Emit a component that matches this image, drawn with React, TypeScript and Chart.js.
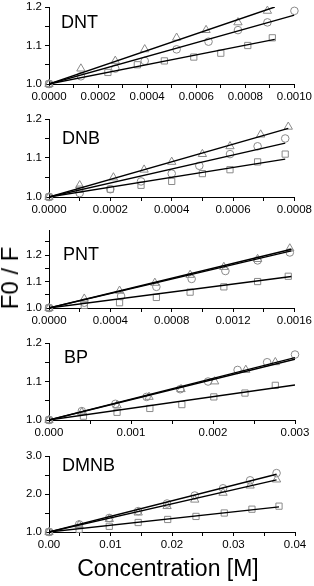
import React, { useEffect, useRef } from 'react';
import { Chart, registerables } from 'chart.js';

Chart.register(...registerables);

const FONT = '"Liberation Sans", Arial, Helvetica, sans-serif';
const GRAY = '#8a8a8a';

// ---------- DNT ----------
const dntTriX = [0, 0.00013, 0.00027, 0.00039, 0.00052, 0.00064, 0.00077, 0.00089];
const dntTriY = [1.0, 1.04, 1.06, 1.09, 1.12, 1.14, 1.16, 1.19];
const dntCirX = [0, 0.00013, 0.00027, 0.00039, 0.00052, 0.00065, 0.00077, 0.00089, 0.001];
const dntCirY = [1.0, 1.02, 1.04, 1.06, 1.09, 1.11, 1.14, 1.16, 1.19];
const dntSqX = [0, 0.00024, 0.00036, 0.00047, 0.00059, 0.0007, 0.00081, 0.00091];
const dntSqY = [1.0, 1.03, 1.05, 1.06, 1.07, 1.08, 1.1, 1.12];
const dntFitX = [0.00092, 0.001, 0.00092]; // tri, circle, square fit end x
const dntFitY = [1.2, 1.179, 1.116];
const dntXTicks = [0, 0.0001, 0.0002, 0.0003, 0.0004, 0.0005, 0.0006, 0.0007, 0.0008, 0.0009, 0.001];
const dntXLabels = ['0.0000', '', '0.0002', '', '0.0004', '', '0.0006', '', '0.0008', '', '0.0010'];

// ---------- DNB ----------
const dnbTriX = [0, 0.0001, 0.00021, 0.00031, 0.0004, 0.0005, 0.00059, 0.00069, 0.00078];
const dnbTriY = [1.0, 1.03, 1.05, 1.07, 1.09, 1.11, 1.13, 1.16, 1.18];
const dnbCirX = [0, 0.0001, 0.0002, 0.0003, 0.0004, 0.00049, 0.00059, 0.00068, 0.00077];
const dnbCirY = [1.0, 1.01, 1.02, 1.04, 1.06, 1.08, 1.11, 1.13, 1.15];
const dnbSqX = [0, 0.0001, 0.0002, 0.0003, 0.0004, 0.0005, 0.00059, 0.00068, 0.00077];
const dnbSqY = [1.0, 1.02, 1.02, 1.03, 1.04, 1.06, 1.07, 1.09, 1.11];
const dnbFitX = [0.00078, 0.00077, 0.00077];
const dnbFitY = [1.176, 1.138, 1.097];
const dnbXTicks = [0, 0.0001, 0.0002, 0.0003, 0.0004, 0.0005, 0.0006, 0.0007, 0.0008];
const dnbXLabels = ['0.0000', '', '0.0002', '', '0.0004', '', '0.0006', '', '0.0008'];

// ---------- PNT ----------
const pntTriX = [0, 0.00023, 0.00046, 0.00069, 0.00092, 0.00114, 0.00136, 0.00157];
const pntTriY = [1.0, 1.035, 1.065, 1.095, 1.125, 1.155, 1.185, 1.225];
const pntCirX = [0, 0.00023, 0.00047, 0.0007, 0.00093, 0.00115, 0.00136, 0.00157];
const pntCirY = [1.0, 1.02, 1.045, 1.08, 1.11, 1.14, 1.18, 1.21];
const pntSqX = [0, 0.00023, 0.00046, 0.0007, 0.00092, 0.00114, 0.00136, 0.00156];
const pntSqY = [1.0, 1.01, 1.02, 1.04, 1.06, 1.08, 1.1, 1.12];
const pntFitX = [0.00158, 0.00158, 0.00158];
const pntFitY = [1.222, 1.216, 1.119];
const pntXTicks = [0, 0.0002, 0.0004, 0.0006, 0.0008, 0.001, 0.0012, 0.0014, 0.0016];
const pntXLabels = ['0.0000', '', '0.0004', '', '0.0008', '', '0.0012', '', '0.0016'];

// ---------- BP ----------
const bpTriX = [0, 0.0004, 0.00083, 0.00122, 0.00161, 0.00202, 0.0024, 0.00276];
const bpTriY = [1.0, 1.02, 1.038, 1.06, 1.08, 1.1, 1.13, 1.15];
const bpCirX = [0, 0.0004, 0.00081, 0.00119, 0.0016, 0.00194, 0.0023, 0.00266, 0.003];
const bpCirY = [1.0, 1.023, 1.042, 1.06, 1.08, 1.1, 1.13, 1.15, 1.17];
const bpSqX = [0, 0.00042, 0.00083, 0.00123, 0.00162, 0.00201, 0.00239, 0.00276];
const bpSqY = [1.0, 1.01, 1.02, 1.03, 1.04, 1.06, 1.07, 1.09];
const bpFitX = [0.003, 0.003, 0.003];
const bpFitY = [1.158, 1.162, 1.091];
const bpXTicks = [0, 0.0005, 0.001, 0.0015, 0.002, 0.0025, 0.003];
const bpXLabels = ['0.000', '', '0.001', '', '0.002', '', '0.003'];

// ---------- DMNB ----------
const dmnbTriX = [0, 0.0049, 0.0098, 0.0145, 0.0192, 0.0237, 0.0283, 0.0327, 0.037];
const dmnbTriY = [1.0, 1.18, 1.34, 1.51, 1.68, 1.85, 2.03, 2.22, 2.38];
const dmnbCirX = [0, 0.0049, 0.0098, 0.0145, 0.0192, 0.0237, 0.0283, 0.0327, 0.037];
const dmnbCirY = [1.0, 1.2, 1.37, 1.55, 1.75, 1.96, 2.15, 2.36, 2.55];
const dmnbSqX = [0, 0.0049, 0.0098, 0.0145, 0.0193, 0.0239, 0.0285, 0.033, 0.0374];
const dmnbSqY = [1.0, 1.07, 1.15, 1.25, 1.33, 1.41, 1.5, 1.6, 1.68];
const dmnbFitX = [0.037, 0.037, 0.0374];
const dmnbFitY = [2.37, 2.52, 1.66];
const dmnbXTicks = [0, 0.005, 0.01, 0.015, 0.02, 0.025, 0.03, 0.035, 0.04];
const dmnbXLabels = ['0.00', '', '0.01', '', '0.02', '', '0.03', '', '0.04'];

// ---------- shared y ticks ----------
const ySmallTicks = [1.0, 1.05, 1.1, 1.15, 1.2];
const ySmallLabels = ['1.0', '', '1.1', '', '1.2'];
const yPntTicks = [1.0, 1.05, 1.1, 1.15, 1.2, 1.25];
const yPntLabels = ['1.0', '', '1.1', '', '1.2', ''];
const yDmnbTicks = [1.0, 1.5, 2.0, 2.5, 3.0];
const yDmnbLabels = ['1.0', '', '2.0', '', '3.0'];

type Series = { x: number[]; y: number[]; style: string; r: number };

function mk(
  name: string, top: number, bottom: number, xMax: number, yMax: number,
  xTicks: number[], xLabels: string[], yTicks: number[], yLabels: string[],
  tri: [number[], number[]], cir: [number[], number[]], sq: [number[], number[]],
  fitX: number[], fitY: number[], titleDx: number, titleDy: number
) {
  const series: Series[] = [
    { x: tri[0], y: tri[1], style: 'triangle', r: 4.8 },
    { x: cir[0], y: cir[1], style: 'circle', r: 3.8 },
    { x: sq[0], y: sq[1], style: 'rect', r: 4.4 },
  ];
  return { name, top, bottom, xMax, yMax, xTicks, xLabels, yTicks, yLabels, series, fitX, fitY, titleDx, titleDy };
}

const PANELS = [
  mk('DNT', 7, 84, 0.001, 1.2, dntXTicks, dntXLabels, ySmallTicks, ySmallLabels,
    [dntTriX, dntTriY], [dntCirX, dntCirY], [dntSqX, dntSqY], dntFitX, dntFitY, 12, 16),
  mk('DNB', 119, 197, 0.0008, 1.2, dnbXTicks, dnbXLabels, ySmallTicks, ySmallLabels,
    [dnbTriX, dnbTriY], [dnbCirX, dnbCirY], [dnbSqX, dnbSqY], dnbFitX, dnbFitY, 13, 20),
  mk('PNT', 230, 308, 0.0016, 1.295, pntXTicks, pntXLabels, yPntTicks, yPntLabels,
    [pntTriX, pntTriY], [pntCirX, pntCirY], [pntSqX, pntSqY], pntFitX, pntFitY, 14, 25),
  mk('BP', 343, 420, 0.003, 1.2, bpXTicks, bpXLabels, ySmallTicks, ySmallLabels,
    [bpTriX, bpTriY], [bpCirX, bpCirY], [bpSqX, bpSqY], bpFitX, bpFitY, 15, 15),
  mk('DMNB', 456, 532, 0.04, 3.0, dmnbXTicks, dmnbXLabels, yDmnbTicks, yDmnbLabels,
    [dmnbTriX, dmnbTriY], [dmnbCirX, dmnbCirY], [dmnbSqX, dmnbSqY], dmnbFitX, dmnbFitY, 13, 10),
];

const PAD_TOP = 12;
const X_AXIS_H = 24;
const Y_AXIS_W = 49;
const PLOT_RIGHT = 295;
const W = 314;

function Panel({ p }: { p: any }) {
  const ref = useRef<HTMLCanvasElement | null>(null);
  const h = p.bottom - p.top + PAD_TOP + X_AXIS_H;
  useEffect(() => {
    if (!ref.current) return;
    const datasets: any[] = [];
    p.series.forEach((s: Series, k: number) => {
      datasets.push({
        data: s.x.map((x, i) => ({ x, y: s.y[i] })),
        showLine: false,
        pointStyle: s.style,
        pointRadius: s.r,
        pointBorderColor: GRAY,
        pointBackgroundColor: 'rgba(255,255,255,0)',
        pointBorderWidth: 1,
        clip: false,
        order: 2,
      });
      datasets.push({
        data: [{ x: 0, y: 1.0 }, { x: p.fitX[k], y: p.fitY[k] }],
        showLine: true,
        borderColor: '#000',
        borderWidth: 1.4,
        pointRadius: 0,
        fill: false,
        order: 1,
      });
    });
    const titlePlugin = {
      id: 'panelTitle',
      afterDraw(chart: any) {
        const ctx = chart.ctx;
        const a = chart.chartArea;
        ctx.save();
        ctx.fillStyle = '#000';
        ctx.font = `18px ${FONT}`;
        ctx.textAlign = 'left';
        ctx.textBaseline = 'middle';
        ctx.fillText(p.name, a.left + p.titleDx, a.top + p.titleDy);
        ctx.restore();
      },
    };
    const chart = new Chart(ref.current, {
      type: 'scatter',
      data: { datasets },
      plugins: [titlePlugin],
      options: {
        animation: false,
        responsive: false,
        layout: { padding: { top: PAD_TOP, right: W - PLOT_RIGHT, left: 0, bottom: 0 } },
        plugins: { legend: { display: false }, tooltip: { enabled: false } },
        scales: {
          x: {
            type: 'linear',
            min: 0,
            max: p.xMax,
            afterBuildTicks: (s: any) => { s.ticks = p.xTicks.map((v: number) => ({ value: v })); },
            afterFit: (s: any) => { s.height = X_AXIS_H; },
            ticks: {
              autoSkip: false,
              maxRotation: 0,
              minRotation: 0,
              padding: 2,
              color: '#000',
              font: { family: FONT, size: 11.5 },
              callback: (_v: any, i: number) => p.xLabels[i],
            },
            grid: { drawOnChartArea: false, drawTicks: true, tickLength: 4, color: '#000', lineWidth: 1 },
            border: { display: true, color: '#000', width: 1 },
          },
          y: {
            type: 'linear',
            min: 1.0,
            max: p.yMax,
            afterBuildTicks: (s: any) => { s.ticks = p.yTicks.map((v: number) => ({ value: v })); },
            afterFit: (s: any) => { s.width = Y_AXIS_W; },
            ticks: {
              autoSkip: false,
              padding: 3,
              color: '#000',
              font: { family: FONT, size: 11.5 },
              callback: (_v: any, i: number) => p.yLabels[i],
            },
            grid: { drawOnChartArea: false, drawTicks: true, tickLength: 4, color: '#000', lineWidth: 1 },
            border: { display: true, color: '#000', width: 1 },
          },
        },
      } as any,
    });
    return () => chart.destroy();
  }, []);
  return (
    <canvas
      ref={ref}
      width={W}
      height={h}
      style={{ position: 'absolute', left: 0, top: p.top - PAD_TOP, width: W, height: h }}
    />
  );
}

export default function App() {
  return (
    <div style={{ position: 'absolute', left: 0, top: 0, width: W, height: 586, background: '#fff', overflow: 'hidden' }}>
      {PANELS.map((p) => (
        <Panel key={p.name} p={p} />
      ))}
      <div
        style={{
          position: 'absolute', left: 10, top: 278, transform: 'translate(-50%, -50%) rotate(-90deg)',
          fontFamily: FONT, fontSize: 24, lineHeight: 1, whiteSpace: 'nowrap', color: '#000',
        }}
      >
        F0 / F
      </div>
      <div
        style={{
          position: 'absolute', left: 168, top: 568, transform: 'translate(-50%, -50%)',
          fontFamily: FONT, fontSize: 23, lineHeight: 1, whiteSpace: 'nowrap', color: '#000',
        }}
      >
        Concentration [M]
      </div>
    </div>
  );
}
